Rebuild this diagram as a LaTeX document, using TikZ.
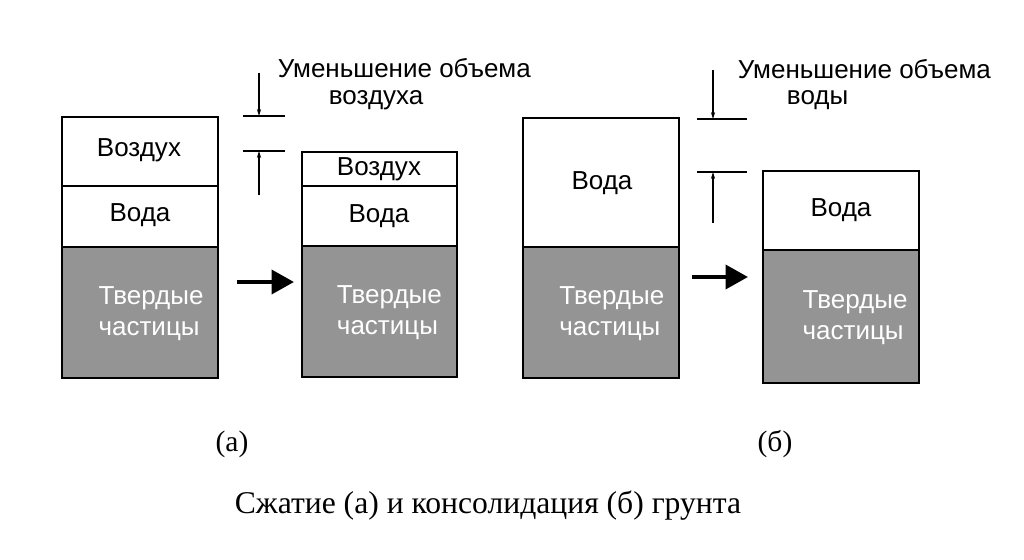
\documentclass[tikz,border=0pt]{standalone}
\usepackage{fontspec}
\setmainfont{Liberation Sans}
\newfontfamily\capfont{Liberation Serif}
\usetikzlibrary{arrows.meta}
\definecolor{solidgray}{gray}{0.58}
\tikzset{
  txt/.style={font=\fontsize{18.5}{22}\selectfont},
  soltxt/.style={txt,white,anchor=west,align=left},
  captxt/.style={font=\capfont\fontsize{21}{24}\selectfont},
  wall/.style={line width=1.6pt},
  dimline/.style={line width=1pt},
  bigarrow/.style={line width=3pt,-{Triangle[length=16pt,width=17pt]}},
  smallarrow/.style={line width=1pt,-{Stealth[length=5pt,width=3pt]}}
}
\begin{document}
\begin{tikzpicture}
    \useasboundingbox (0,0) rectangle (25.6,14);
    % (а) compression
    \fill[solidgray] (1.55,4.55) rectangle (5.45,7.825);
    \draw[wall] (1.55,4.55) rectangle (5.45,11.075);
    \draw[wall] (1.55,9.35) -- (5.45,9.35);
    \draw[wall] (1.55,7.825) -- (5.45,7.825);
    \node[txt] (airA) at (3.475,10.25) {Воздух};
    \node[txt] (waterA) at (3.5,8.625) {Вода};
    \node[soltxt] (solA) at (2.34,6.15) {Твердые\\частицы};

    \fill[solidgray] (7.55,4.575) rectangle (11.425,7.85);
    \draw[wall] (7.55,4.575) rectangle (11.425,10.2);
    \draw[wall] (7.55,9.35) -- (11.425,9.35);
    \draw[wall] (7.55,7.85) -- (11.425,7.85);
    \node[txt] (airB) at (9.475,9.775) {Воздух};
    \node[txt] (waterB) at (9.475,8.6) {Вода};
    \node[soltxt] (solB) at (8.3,6.175) {Твердые\\частицы};

    \coordinate (arrAs) at (5.925,6.95);
    \coordinate (arrAe) at (7.35,6.95);
    \draw[bigarrow] (arrAs) -- (arrAe);

    \draw[dimline] (6.075,11.1) -- (7.125,11.1);
    \draw[dimline] (6.075,10.225) -- (7.125,10.225);
    \coordinate (dimAt) at (6.475,12.175);
    \coordinate (dimAu) at (6.475,11.1);
    \coordinate (dimAb) at (6.475,9.125);
    \coordinate (dimAl) at (6.475,10.225);
    \draw[smallarrow] (dimAt) -- (dimAu);
    \draw[smallarrow] (dimAb) -- (dimAl);
    \node[txt,anchor=west] (lblA1) at (6.82,12.3) {Уменьшение объема};
    \node[txt,anchor=west] (lblA2) at (8.1,11.5) {воздуха};

    % (б) consolidation
    \fill[solidgray] (13.075,4.55) rectangle (16.975,7.825);
    \draw[wall] (13.075,4.55) rectangle (16.975,11.05);
    \draw[wall] (13.075,7.825) -- (16.975,7.825);
    \node[txt] (waterC) at (15.05,9.425) {Вода};
    \node[soltxt] (solC) at (13.86,6.15) {Твердые\\частицы};

    \fill[solidgray] (19.075,4.425) rectangle (22.975,7.75);
    \draw[wall] (19.075,4.425) rectangle (22.975,9.725);
    \draw[wall] (19.075,7.75) -- (22.975,7.75);
    \node[txt] (waterD) at (21.025,8.75) {Вода};
    \node[soltxt] (solD) at (19.94,6.05) {Твердые\\частицы};

    \coordinate (arrBs) at (17.3,7.075);
    \coordinate (arrBe) at (18.7,7.075);
    \draw[bigarrow] (arrBs) -- (arrBe);

    \draw[dimline] (17.425,11.025) -- (18.675,11.025);
    \draw[dimline] (17.425,9.7) -- (18.675,9.7);
    \coordinate (dimBt) at (17.825,12.25);
    \coordinate (dimBu) at (17.825,11.025);
    \coordinate (dimBb) at (17.825,8.425);
    \coordinate (dimBl) at (17.825,9.7);
    \draw[smallarrow] (dimBt) -- (dimBu);
    \draw[smallarrow] (dimBb) -- (dimBl);
    \node[txt,anchor=west] (lblB1) at (18.32,12.275) {Уменьшение объема};
    \node[txt,anchor=west] (lblB2) at (19.55,11.5) {воды};

    % captions
    \node[captxt] (capA) at (5.8,2.9) {(а)};
    \node[captxt] (capB) at (19.375,2.9) {(б)};
    \node[captxt,font=\capfont\fontsize{22.5}{26}\selectfont] (title) at (12.2,1.35)
        {Сжатие (а) и консолидация (б) грунта};
\end{tikzpicture}
\end{document}
